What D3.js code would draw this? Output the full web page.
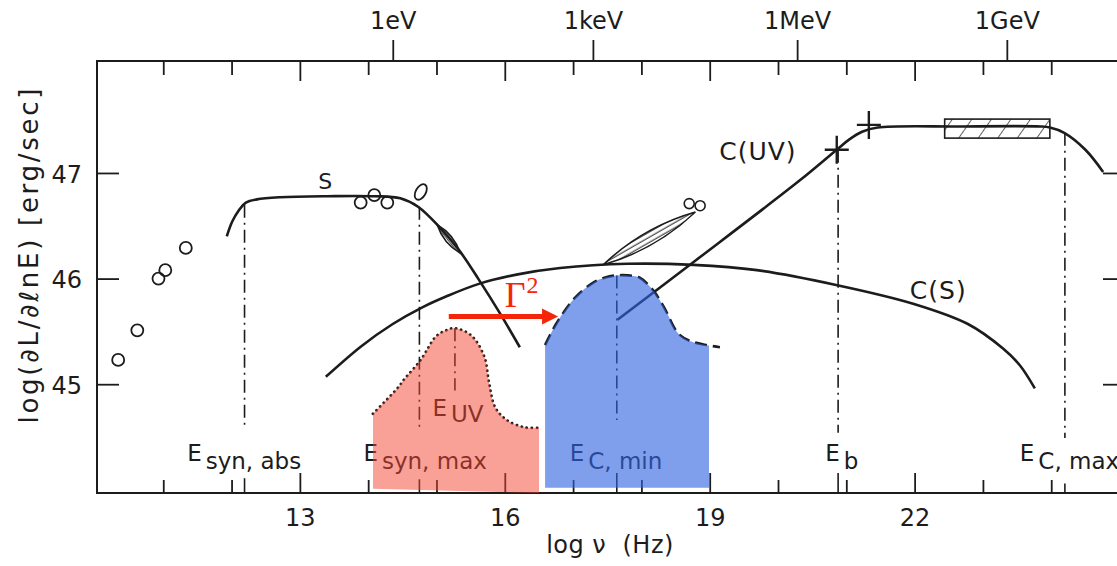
<!DOCTYPE html>
<html>
<head>
<meta charset="utf-8">
<script src="https://cdn.jsdelivr.net/npm/d3@7"></script>
<style>
  body { margin: 0; background: #fff; }
  svg { display: block; font-family: "DejaVu Sans", sans-serif; }
  svg text { fill: #1c1c1c; }
</style>
</head>
<body>
<div id="chart"></div>
<script>
// axes: log nu (Hz) bottom, photon energy on top, log luminosity on the left
var nuTicks = d3.range(11, 25);
var nuLabels = [13, 16, 19, 22];
var lumTicks = [45, 46, 47];
var energyLabels = ["1eV", "1keV", "1MeV", "1GeV"];
var energyNu = [14.36, 17.29, 20.28, 23.35];

// model curves [log nu, log L]
var synS = [[11.93,46.40],[12.01,46.54],[12.10,46.64],[12.21,46.72],[12.37,46.75],[12.71,46.77],
  [13.40,46.78],[14.10,46.78],[14.47,46.76],[14.73,46.68],[15.04,46.49],[15.33,46.27],
  [15.62,45.99],[15.93,45.67],[16.22,45.35]];
var compS = [[13.38,45.07],[13.90,45.36],[14.36,45.57],[14.80,45.73],[15.14,45.83],[15.62,45.95],
  [16.19,46.04],[16.81,46.10],[17.80,46.14],[18.76,46.13],[19.69,46.08],[20.85,45.94],
  [21.99,45.76],[22.78,45.57],[23.29,45.34],[23.54,45.18],[23.76,44.96]];
var compUV = [[17.65,45.61],[18.75,46.15],[20.32,46.93],[20.86,47.22],[21.05,47.32],[21.23,47.39],
  [21.46,47.43],[22.66,47.44],[23.84,47.44],[23.98,47.43],[24.19,47.38],[24.50,47.22],[24.76,47.01]];

// UV bump (dotted, red) and its Compton image (dashed, blue)
var uvBump = [[14.07,44.72],[14.44,44.97],[14.52,45.04],[14.77,45.23],[14.99,45.45],[15.14,45.51],
  [15.27,45.53],[15.51,45.46],[15.70,45.26],[15.77,45.01],[15.86,44.78],[16.03,44.66],
  [16.30,44.59],[16.53,44.59]];
var uvBumpEdge = [14.07, 16.50];
var uvBumpBase = [44.01, 43.97];
var comptonBump = [[16.59,45.37],[16.76,45.58],[17.03,45.82],[17.29,45.96],[17.47,46.01],[17.63,46.03],
  [17.80,46.03],[17.97,46.01],[18.17,45.89],[18.33,45.73],[18.54,45.48],[18.71,45.41],
  [18.96,45.37],[19.15,45.35]];
var comptonEdge = [16.59, 18.99];
var comptonBase = [44.02, 44.02];

// observations
var irPoints = [[10.34,45.23],[10.62,45.51],[10.93,46.00],[11.03,46.08],[11.33,46.29]];
var optPoints = [[13.89,46.72],[14.09,46.79],[14.28,46.72]];
var optEllipse = [14.77, 46.82];
var uvBowtie = [[15.01,46.51],[15.35,46.24]];
var xrayBowtie = [[17.44,46.13],[18.79,46.63]];
var xrayPoints = [[18.70,46.71],[18.86,46.69]];
var gammaBoxNu = [22.44, 23.98];
var gammaBoxL = [47.33, 47.51];
var crossPoints = [[20.86,47.22],[21.33,47.455]];

// characteristic energies
var markSub = ["syn, abs", "syn, max", "UV", "C, min", "b", "C, max"];
var markNu = [12.19, 14.75, 15.27, 17.64, 20.88, 24.20];
var markTop = [46.70, 46.68, 45.53, 46.03, 47.22, 47.38];
var markBottom = [44.58, 44.55, 44.94, 44.66, 44.54, 44.49];
var markLow = [44.11, 44.10, null, 44.16, 44.16, 44.06];
var markLabelNu = [11.35, 13.93, 14.94, 16.95, 20.69, 23.54];
var markLabelL = [44.27, 44.27, 44.70, 44.27, 44.27, 44.27];

// curve labels
var curveNames = ["S", "C(UV)", "C(S)"];
var curveLabelNu = [13.27, 19.14, 21.93];
var curveLabelL = [46.85, 47.12, 45.81];

// Gamma^2 shift
var arrowNu = [15.18, 16.78];
var arrowL = 45.64;
var gammaLabel = [16.0, 45.73];

var width = 1117, height = 566;
var ink = "#1c1c1c";

var svg = d3.select("#chart").append("svg")
    .attr("width", width)
    .attr("height", height);

var x = d3.scaleLinear().domain([10.03, 25.08]).range([97, 1125]);
var y = d3.scaleLinear().domain([43.97, 48.06]).range([493, 61]);

var defs = svg.append("defs");
defs.append("pattern").attr("id", "hatchBox")
    .attr("patternUnits", "userSpaceOnUse")
    .attr("width", 16).attr("height", 16)
    .attr("patternTransform", "rotate(35)")
  .append("line")
    .attr("x1", 0).attr("y1", 0).attr("x2", 0).attr("y2", 16)
    .attr("stroke", ink).attr("stroke-width", 1.4);

function angleOf(a, b) {
    return Math.atan2(y(b[1]) - y(a[1]), x(b[0]) - x(a[0])) * 180 / Math.PI;
}
[["hatchX", xrayBowtie], ["hatchUV", uvBowtie]].forEach(function(h) {
    defs.append("pattern").attr("id", h[0])
        .attr("patternUnits", "userSpaceOnUse")
        .attr("width", 8).attr("height", 4.5)
        .attr("patternTransform", "rotate(" + angleOf(h[1][0], h[1][1]) + ")")
      .append("line")
        .attr("x1", 0).attr("y1", 2).attr("x2", 8).attr("y2", 2)
        .attr("stroke", ink).attr("stroke-width", 1);
});
defs.append("clipPath").attr("id", "clipRed").append("rect")
    .attr("x", x(uvBumpEdge[0])).attr("y", 0)
    .attr("width", x(uvBumpEdge[1]) - x(uvBumpEdge[0])).attr("height", height);
defs.append("clipPath").attr("id", "clipBlue").append("rect")
    .attr("x", x(comptonEdge[0])).attr("y", 0)
    .attr("width", x(comptonEdge[1]) - x(comptonEdge[0])).attr("height", height);

// ---------- axes ----------
function styleAxis(g) {
    g.select(".domain").remove();
    g.attr("font-family", "DejaVu Sans").attr("font-size", 24).attr("color", ink);
    g.selectAll(".tick line").attr("stroke-width", 1.8);
}

var gBottom = svg.append("g")
    .attr("transform", "translate(0," + y.range()[0] + ")")
    .call(d3.axisBottom(x).tickValues(nuTicks).tickSizeInner(-20).tickSizeOuter(0).tickPadding(16)
        .tickFormat(function(d) { return nuLabels.indexOf(d) >= 0 ? d : ""; }))
    .call(styleAxis);
gBottom.selectAll(".tick line").attr("y2", function(d) { return nuLabels.indexOf(d) >= 0 ? -20 : -13; });

var gTop = svg.append("g")
    .attr("transform", "translate(0," + y.range()[1] + ")")
    .call(d3.axisTop(x).tickValues(nuTicks).tickSizeInner(-20).tickSizeOuter(0).tickFormat(""))
    .call(styleAxis);
gTop.selectAll(".tick line").attr("y2", function(d) { return nuLabels.indexOf(d) >= 0 ? 20 : 14; });

svg.append("g")
    .attr("transform", "translate(0," + y.range()[1] + ")")
    .call(d3.axisTop(x).tickValues(energyNu).tickSize(21).tickPadding(11)
        .tickFormat(function(d, i) { return energyLabels[i]; }))
    .call(styleAxis);

svg.append("g")
    .attr("transform", "translate(" + x.range()[0] + ",0)")
    .call(d3.axisLeft(y).tickValues(lumTicks).tickSizeInner(-22).tickSizeOuter(0).tickPadding(15)
        .tickFormat(d3.format("d")))
    .call(styleAxis)
    .selectAll("text").attr("dy", "0.38em");

svg.append("g")
    .attr("transform", "translate(" + x.range()[1] + ",0)")
    .call(d3.axisRight(y).tickValues(lumTicks).tickSizeInner(-22).tickSizeOuter(0).tickFormat(""))
    .call(styleAxis);

// frame
svg.append("rect")
    .attr("x", x.range()[0]).attr("y", y.range()[1])
    .attr("width", x.range()[1] - x.range()[0])
    .attr("height", y.range()[0] - y.range()[1])
    .attr("fill", "none").attr("stroke", ink).attr("stroke-width", 2);

svg.append("text")
    .attr("transform", "translate(38,256) rotate(-90)")
    .attr("text-anchor", "middle")
    .attr("font-size", 26)
    .attr("textLength", 335).attr("lengthAdjust", "spacing")
    .text("log(\u2202L/\u2202\u2113nE) [erg/sec]");

svg.append("text")
    .attr("x", 610).attr("y", 553)
    .attr("text-anchor", "middle")
    .attr("font-size", 24)
    .attr("letter-spacing", 0.5)
    .text("log \u03bd\u00a0\u00a0(Hz)");

// ---------- characteristic energies ----------
var dashDot = "13,5,2,5";
markNu.forEach(function(nu, i) {
    svg.append("line")
        .attr("x1", x(nu)).attr("x2", x(nu))
        .attr("y1", y(markTop[i])).attr("y2", y(markBottom[i]))
        .attr("stroke", ink).attr("stroke-width", 1.6)
        .attr("stroke-dasharray", dashDot);
    if (markLow[i] !== null) {
        svg.append("line")
            .attr("x1", x(nu)).attr("x2", x(nu))
            .attr("y1", y(markLow[i])).attr("y2", y.range()[0])
            .attr("stroke", ink).attr("stroke-width", 1.6);
    }
    var t = svg.append("text")
        .attr("x", x(markLabelNu[i])).attr("y", y(markLabelL[i]))
        .attr("font-size", 23);
    t.append("tspan").text("E");
    t.append("tspan").attr("dx", 4).attr("dy", i === 2 ? 6 : 8).text(markSub[i]);
});

// ---------- model curves ----------
var line = d3.line()
    .x(function(d) { return x(d[0]); })
    .y(function(d) { return y(d[1]); })
    .curve(d3.curveCatmullRom.alpha(0.5));

[synS, compS, compUV].forEach(function(c) {
    svg.append("path").attr("d", line(c))
        .attr("fill", "none").attr("stroke", ink)
        .attr("stroke-width", 2.6).attr("stroke-linejoin", "round");
});

curveNames.forEach(function(name, i) {
    svg.append("text")
        .attr("x", x(curveLabelNu[i])).attr("y", y(curveLabelL[i]))
        .attr("font-size", i === 0 ? 22 : 25)
        .attr("letter-spacing", i === 0 ? 0 : 1)
        .text(name);
});

// bumps
svg.append("path").attr("d", line(uvBump))
    .attr("fill", "none").attr("stroke", ink).attr("stroke-width", 2.8)
    .attr("stroke-linecap", "round").attr("stroke-dasharray", "0.1,5");
svg.append("path").attr("d", line(comptonBump))
    .attr("fill", "none").attr("stroke", ink).attr("stroke-width", 2.6)
    .attr("stroke-dasharray", "12,6");

// ---------- observations ----------
svg.selectAll(".ir").data(irPoints.concat(optPoints)).enter().append("circle")
    .attr("cx", function(d) { return x(d[0]); })
    .attr("cy", function(d) { return y(d[1]); })
    .attr("r", 6)
    .attr("fill", "none").attr("stroke", ink).attr("stroke-width", 1.8);

svg.append("ellipse")
    .attr("transform", "translate(" + x(optEllipse[0]) + "," + y(optEllipse[1]) + ") rotate(30)")
    .attr("rx", 5).attr("ry", 8.5)
    .attr("fill", "none").attr("stroke", ink).attr("stroke-width", 1.8);

function lens(p, half) {
    var a = [x(p[0][0]), y(p[0][1])], b = [x(p[1][0]), y(p[1][1])];
    var mx = (a[0] + b[0]) / 2, my = (a[1] + b[1]) / 2;
    var dx = b[0] - a[0], dy = b[1] - a[1], len = Math.hypot(dx, dy);
    var nx = -dy / len * half * 2, ny = dx / len * half * 2;
    return "M" + a + "Q" + (mx + nx) + "," + (my + ny) + " " + b +
           "Q" + (mx - nx) + "," + (my - ny) + " " + a + "Z";
}
svg.append("path").attr("d", lens(uvBowtie, 3.5))
    .attr("fill", "url(#hatchUV)").attr("stroke", ink).attr("stroke-width", 1.6);
svg.append("path").attr("d", lens(xrayBowtie, 6.5))
    .attr("fill", "url(#hatchX)").attr("stroke", ink).attr("stroke-width", 1.6);
svg.selectAll(".xp").data(xrayPoints).enter().append("circle")
    .attr("cx", function(d) { return x(d[0]); })
    .attr("cy", function(d) { return y(d[1]); })
    .attr("r", 5)
    .attr("fill", "#fff").attr("stroke", ink).attr("stroke-width", 1.6);

svg.append("rect")
    .attr("x", x(gammaBoxNu[0])).attr("y", y(gammaBoxL[1]))
    .attr("width", x(gammaBoxNu[1]) - x(gammaBoxNu[0]))
    .attr("height", y(gammaBoxL[0]) - y(gammaBoxL[1]))
    .attr("fill", "url(#hatchBox)").attr("stroke", ink).attr("stroke-width", 1.6);

crossPoints.forEach(function(d) {
    var cx = x(d[0]), cy = y(d[1]);
    svg.append("path")
        .attr("d", "M" + (cx - 12) + "," + cy + "H" + (cx + 12) + "M" + cx + "," + (cy - 14) + "V" + (cy + 14))
        .attr("stroke", ink).attr("stroke-width", 2.4);
});

// ---------- coloured overlays ----------
var redPath = line(uvBump) +
    "L" + x(uvBump[uvBump.length - 1][0]) + "," + y(uvBumpBase[1]) +
    "L" + x(uvBumpEdge[0]) + "," + y(uvBumpBase[0]) + "Z";
svg.append("path").attr("d", redPath)
    .attr("clip-path", "url(#clipRed)")
    .attr("fill", "rgb(243,68,48)").attr("fill-opacity", 0.5);

var bluePath = line(comptonBump) +
    "L" + x(comptonBump[comptonBump.length - 1][0]) + "," + y(comptonBase[1]) +
    "L" + x(comptonEdge[0]) + "," + y(comptonBase[0]) + "Z";
svg.append("path").attr("d", bluePath)
    .attr("clip-path", "url(#clipBlue)")
    .attr("fill", "rgb(48,100,225)").attr("fill-opacity", 0.62);

// Gamma^2 arrow
var red = "#f5250a";
var ax0 = x(arrowNu[0]), ax1 = x(arrowNu[1]), ay = y(arrowL);
svg.append("line")
    .attr("x1", ax0).attr("x2", ax1 - 13).attr("y1", ay).attr("y2", ay)
    .attr("stroke", red).attr("stroke-width", 5);
svg.append("path")
    .attr("d", "M" + (ax1 - 16) + "," + (ay - 8) + "L" + ax1 + "," + ay + "L" + (ax1 - 16) + "," + (ay + 8) + "Z")
    .attr("fill", red);
var g2 = svg.append("text")
    .attr("x", x(gammaLabel[0])).attr("y", y(gammaLabel[1]))
    .attr("font-family", "Liberation Serif, serif")
    .attr("font-size", 36)
    .style("fill", red);
g2.append("tspan").text("\u0393");
g2.append("tspan").attr("dx", 1).attr("dy", -14).attr("font-size", 24).text("2");
</script>
</body>
</html>
